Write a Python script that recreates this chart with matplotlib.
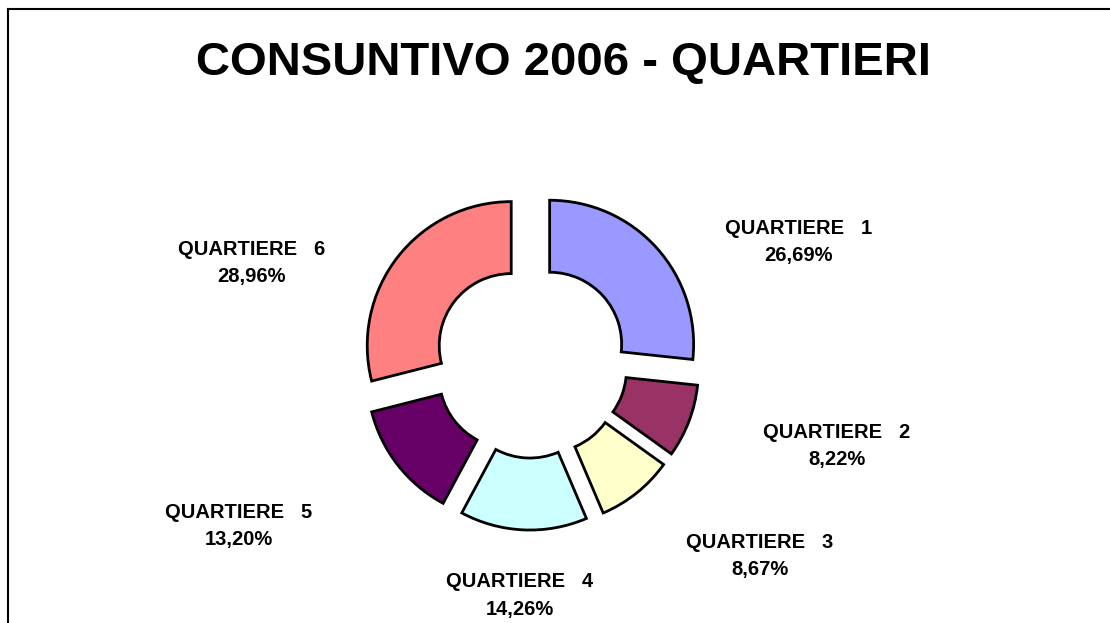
import matplotlib
matplotlib.use("Agg")
import matplotlib.pyplot as plt
from matplotlib.lines import Line2D

# data
categories = ["QUARTIERE   1", "QUARTIERE   2", "QUARTIERE   3",
              "QUARTIERE   4", "QUARTIERE   5", "QUARTIERE   6"]
values = [26.69, 8.22, 8.67, 14.26, 13.20, 28.96]
colors = ["#9999FF", "#993366", "#FFFFCC", "#CCFFFF", "#660066", "#FF8080"]

# label block centres, in units of the outer radius
label_pos = [(1.861, 0.826), (2.125, -0.590), (1.590, -1.354),
             (-0.076, -1.628), (-2.028, -1.146), (-1.938, 0.680)]

W, H = 1110, 623
cx, cy, R = 531, 361, 144  # pixel centre and outer radius

plt.rcParams['font.family'] = ['Liberation Sans', 'DejaVu Sans']

fig = plt.figure(figsize=(W / 100, H / 100), dpi=100)
fig.patch.set_facecolor("white")
ax = fig.add_axes([0, 0, 1, 1])

ax.pie(values, colors=colors, startangle=90, counterclock=False,
       radius=1, explode=[0.174] * len(values),
       wedgeprops=dict(width=0.5, edgecolor="black", linewidth=2,
                       joinstyle="miter"))

for name, v, (lx, ly) in zip(categories, values, label_pos):
    pct = f"{v:.2f}".replace(".", ",") + "%"
    ax.text(lx, ly, f"{name}\n{pct}", ha="center", va="center",
            fontsize=14.5, fontweight="bold", linespacing=1.55,
            multialignment="center")

ax.set_xlim(-cx / R, (W - cx) / R)
ax.set_ylim(-(H - cy) / R, cy / R)
ax.set_aspect("auto")
ax.axis("off")

fig.text(563.5 / W, 1 - 63 / H, "CONSUNTIVO 2006 - QUARTIERI",
         ha="center", va="center", fontsize=34, fontweight="bold")

# chart frame (top and left edges visible)
fig.add_artist(Line2D([8 / W, 1], [1 - 9 / H, 1 - 9 / H], color="black",
                      linewidth=1.5, transform=fig.transFigure))
fig.add_artist(Line2D([8 / W, 8 / W], [0, 1 - 9 / H], color="black",
                      linewidth=1.5, transform=fig.transFigure))

fig.savefig("out.png", dpi=100, facecolor="white")
